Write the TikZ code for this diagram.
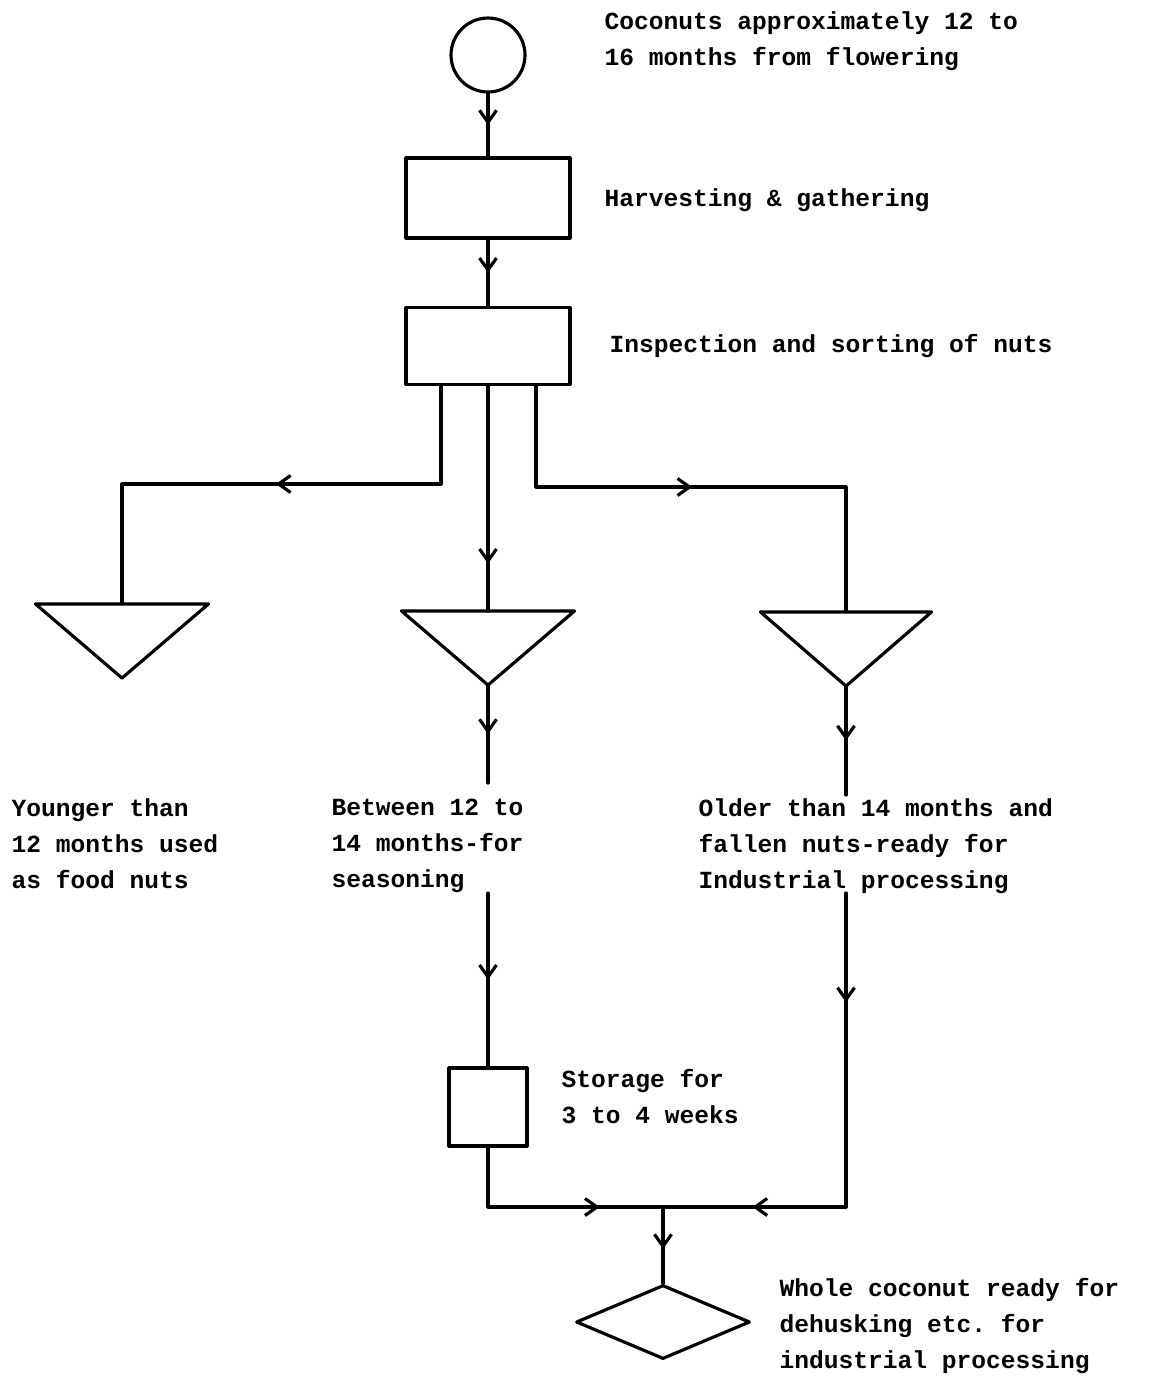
\documentclass[tikz,border=0pt]{standalone}
\usepackage{fontspec}
\setmonofont{Liberation Mono}
\usetikzlibrary{arrows.meta, shapes.geometric, decorations.markings}
\tikzset{
    flowchart/.style={x=0.02cm, y=-0.02cm, line width=1.8pt, line cap=round,
                      line join=round, >={Straight Barb[length=2.4mm, width=3.4mm]},
                      font=\fontsize{14}{20.5}\selectfont\ttfamily\bfseries},
    procbox/.style={draw, rectangle, inner sep=0pt},
    startcirc/.style={draw, circle, minimum size=1.48cm, inner sep=0pt},
    trislot/.style={rectangle, inner sep=0pt, minimum width=3.4cm, minimum height=1.42cm},
    endbox/.style={draw, diamond, inner sep=0pt, minimum width=3.48cm, minimum height=1.48cm},
    note/.style={inner sep=0pt, align=left},
    flow/.style={postaction={decorate},
                 decoration={markings, mark=at position #1 with {\arrow{>}}}},
    flow/.default=0.5,
    twoflow/.style 2 args={postaction={decorate},
                 decoration={markings, mark=at position #1 with {\arrow{>}},
                                       mark=at position #2 with {\arrow{>}}}},
}

\begin{document}
\begin{tikzpicture}[flowchart]
\useasboundingbox (0,0) rectangle (1158,1376);

% --- main column ---
\node[startcirc] (coco) at (488,55) {};
\node[procbox, minimum width=3.28cm, minimum height=1.6cm]  (harvest) at (488,198) {};
\node[procbox, minimum width=3.28cm, minimum height=1.54cm] (inspect) at (488,346) {};

% --- triangles ---
\node[trislot] (triYoung)  at (122,641) {};
\node[trislot] (triSeason) at (488,648) {};
\node[trislot, minimum width=3.36cm] (triOld) at (846,649) {};
\foreach \t in {triYoung,triSeason,triOld}{
    \draw (\t.north west) -- (\t.north east) -- (\t.south) -- cycle;
}

\node[procbox, minimum width=1.56cm, minimum height=1.56cm] (storage) at (488,1107) {};
\node[endbox] (whole) at (663,1322) {};

% --- texts ---
\node[note, anchor=north west] (cocoText) at (603,10) {Coconuts approximately 12 to\\16 months from flowering};
\node[note, anchor=west] (harvestText) at (603,200) {Harvesting \& gathering};
\node[note, anchor=west] (inspectText) at (608,346) {Inspection and sorting of nuts};
\node[note, anchor=north west] (youngText)  at (10,797)  {Younger than\\12 months used\\as food nuts};
\node[note, anchor=north west] (seasonText) at (330,797) {Between 12 to\\14 months-for\\seasoning};
\node[note, anchor=north west] (oldText)    at (697,797) {Older than 14 months and\\fallen nuts-ready for\\Industrial processing};
\node[note, anchor=north west] (storageText) at (560,1068) {Storage for\\3 to 4 weeks};
\node[note, anchor=north west] (wholeText)  at (778,1277) {Whole coconut ready for\\dehusking etc. for\\industrial processing};

% --- bends and free ends ---
\coordinate (lbend) at (441,484);
\coordinate (rbend) at (536,487);
\coordinate (seasonTop) at (488,783);
\coordinate (seasonBot) at (488,893);
\coordinate (oldTop) at (846,795);
\coordinate (oldBot) at (846,893);
\coordinate (joinL) at (488,1207);
\coordinate (joinM) at (663,1207);

% --- connectors ---
\draw[flow] (coco) -- (harvest);
\draw[flow] (harvest) -- (inspect);
\draw[flow=0.49] (inspect.south -| lbend) -- (lbend) -| (triYoung.north);
\draw[flow=0.79] (inspect.south) -- (triSeason.north);
\draw[flow=0.48] (inspect.south -| rbend) -- (rbend) -| (triOld.north);
\draw[flow] (triSeason.south) -- (seasonTop);
\draw[flow] (triOld.south) -- (oldTop);
\draw[flow] (seasonBot) -- (storage.north);
\draw[flow=0.73] (storage.south) -- (joinL) -- (joinM);
\draw[twoflow={0.22}{0.82}] (oldBot) |- (joinM);
\draw[flow=0.55] (joinM) -- (whole.north);

\end{tikzpicture}
\end{document}
